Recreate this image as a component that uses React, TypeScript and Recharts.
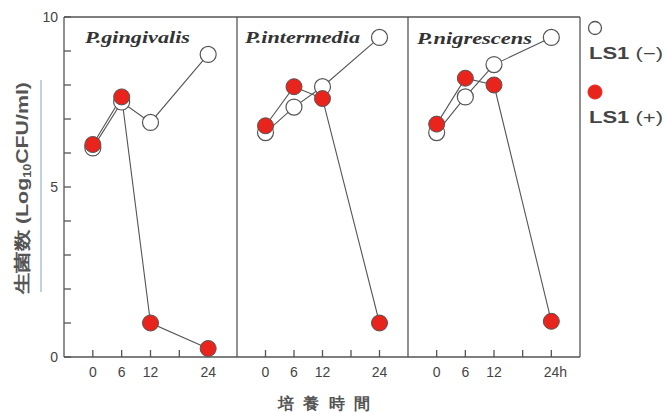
import React from 'react'
import { LineChart, Line, XAxis, YAxis } from 'recharts'

// culture time (h) and log10 CFU/ml
const hours = [0, 6, 12, 24]
const xTicks = [0, 6, 12, 18, 24]
const xLabels = [0, 6, 12, 24]
const yTicks = [0, 1, 2, 3, 4, 5, 6, 7, 8, 9, 10]
const yLabels = [0, 5, 10]
const species = ['P.gingivalis', 'P.intermedia', 'P.nigrescens']

const gingivalisMinus = [6.15, 7.5, 6.9, 8.9]
const gingivalisPlus = [6.25, 7.65, 1.0, 0.25]
const intermediaMinus = [6.6, 7.35, 7.95, 9.4]
const intermediaPlus = [6.8, 7.95, 7.6, 1.0]
const nigrescensMinus = [6.6, 7.65, 8.6, 9.4]
const nigrescensPlus = [6.85, 8.2, 8.0, 1.05]

const RED = '#e8241c'
const INK = '#555'
const sans = 'Liberation Sans, Arial, sans-serif'
const serif = 'Liberation Serif, Times New Roman, serif'

const toRows = (vals: number[]) => hours.map((t, i) => ({ t, v: vals[i] }))

// tickSize is negative so the marks point into the panel
const XTick = (last: boolean) => (props: any) => {
  const { x, y, payload } = props
  const v = payload.value
  if (!xLabels.includes(v)) return <g />
  const is24h = v === 24 && last
  return (
    <text x={is24h ? x + 4 : x} y={y + 27} textAnchor="middle" fontSize={14} fill="#444" fontFamily={sans}>
      {is24h ? '24h' : v}
    </text>
  )
}

const YTick = (props: any) => {
  const { x, y, payload } = props
  if (!yLabels.includes(payload.value)) return <g />
  return (
    <text x={x} y={y + 5} textAnchor="end" fontSize={14} fill="#444" fontFamily={sans}>{payload.value}</text>
  )
}

function Panel({ left, width, minus, plus, showY, last }: any) {
  const pad = 4
  const yw = showY ? 30 : 0
  return (
    <div style={{ position: 'absolute', left: left - pad - yw, top: 0 }}>
      <LineChart width={yw + width + pad * 2} height={412} margin={{ top: 16, right: pad - 1, bottom: 25, left: pad }}>
        <XAxis type="number" dataKey="t" domain={[-6, 30]} ticks={xTicks} allowDataOverflow interval={0}
          axisLine={{ stroke: INK, strokeWidth: 1.3 }} tickLine={{ stroke: INK, strokeWidth: 1.3 }}
          tickSize={-7} tickMargin={0} height={30} tick={XTick(last)} />
        <XAxis xAxisId="top" orientation="top" type="number" domain={[-6, 30]} height={1}
          axisLine={{ stroke: INK, strokeWidth: 1.3 }} tick={false} tickLine={false} />
        <YAxis type="number" domain={[0, 10]} ticks={yTicks} width={yw} hide={!showY} interval={0}
          axisLine={{ stroke: INK, strokeWidth: 1.3 }} tickLine={{ stroke: INK, strokeWidth: 1.3 }}
          tickSize={-7} tickMargin={13} tick={YTick} />
        <YAxis yAxisId="right" orientation="right" type="number" domain={[0, 10]} width={1}
          axisLine={{ stroke: INK, strokeWidth: 1.3 }} tick={false} tickLine={false} />
        <Line data={toRows(minus)} dataKey="v" type="linear" stroke={INK} strokeWidth={1.1} activeDot={false}
          dot={{ r: 8, fill: '#fff', stroke: INK, strokeWidth: 1.2 }} isAnimationActive={false} />
        <Line data={toRows(plus)} dataKey="v" type="linear" stroke={INK} strokeWidth={1.1} activeDot={false}
          dot={{ r: 8, fill: RED, stroke: INK, strokeWidth: 1 }} isAnimationActive={false} />
      </LineChart>
    </div>
  )
}

export default function App() {
  return (
    <div style={{ position: 'absolute', left: 0, top: 0, width: 665, height: 412, background: '#fff' }}>
      <Panel left={64} width={173} minus={gingivalisMinus} plus={gingivalisPlus} showY last={false} />
      <Panel left={237} width={171} minus={intermediaMinus} plus={intermediaPlus} last={false} />
      <Panel left={408} width={172} minus={nigrescensMinus} plus={nigrescensPlus} last />
      <svg width={665} height={412} style={{ position: 'absolute', left: 0, top: 0, pointerEvents: 'none' }}>
        <text x={85} y={43} fontFamily={serif} fontStyle="italic" fontWeight="bold" fontSize={16.5} fill="#333"
          textLength={105} lengthAdjust="spacingAndGlyphs">{species[0]}</text>
        <text x={245} y={43} fontFamily={serif} fontStyle="italic" fontWeight="bold" fontSize={16.5} fill="#333"
          textLength={115} lengthAdjust="spacingAndGlyphs">{species[1]}</text>
        <text x={417} y={44} fontFamily={serif} fontStyle="italic" fontWeight="bold" fontSize={16.5} fill="#333"
          textLength={115} lengthAdjust="spacingAndGlyphs">{species[2]}</text>

        <text transform="rotate(-90 22 188)" x={22} y={194} textAnchor="middle" fontFamily={sans} fontWeight="bold"
          fontSize={17} fill={INK} textLength={212} lengthAdjust="spacingAndGlyphs">
          生菌数 (Log<tspan fontSize={10} dy={3}>10</tspan><tspan dy={-3}>CFU/ml)</tspan>
        </text>
        <line x1={41} x2={41} y1={80} y2={292} stroke="#9dbad6" strokeWidth={1.3} />

        <text x={324} y={409} textAnchor="middle" fontFamily={sans} fontWeight="bold" fontSize={16} fill={INK}
          textLength={92} lengthAdjust="spacing">培養時間</text>

        <circle cx={595} cy={28} r={6.5} fill="#fff" stroke={INK} strokeWidth={1.3} />
        <text x={589} y={59} fontFamily={sans} fontSize={16} fill="#444" textLength={74} lengthAdjust="spacingAndGlyphs">
          <tspan fontWeight="bold">LS1</tspan> (−)
        </text>
        <circle cx={595} cy={92} r={7} fill={RED} stroke={RED} strokeWidth={1} />
        <text x={589} y={123} fontFamily={sans} fontSize={16} fill="#444" textLength={74} lengthAdjust="spacingAndGlyphs">
          <tspan fontWeight="bold">LS1</tspan> (+)
        </text>
      </svg>
    </div>
  )
}
